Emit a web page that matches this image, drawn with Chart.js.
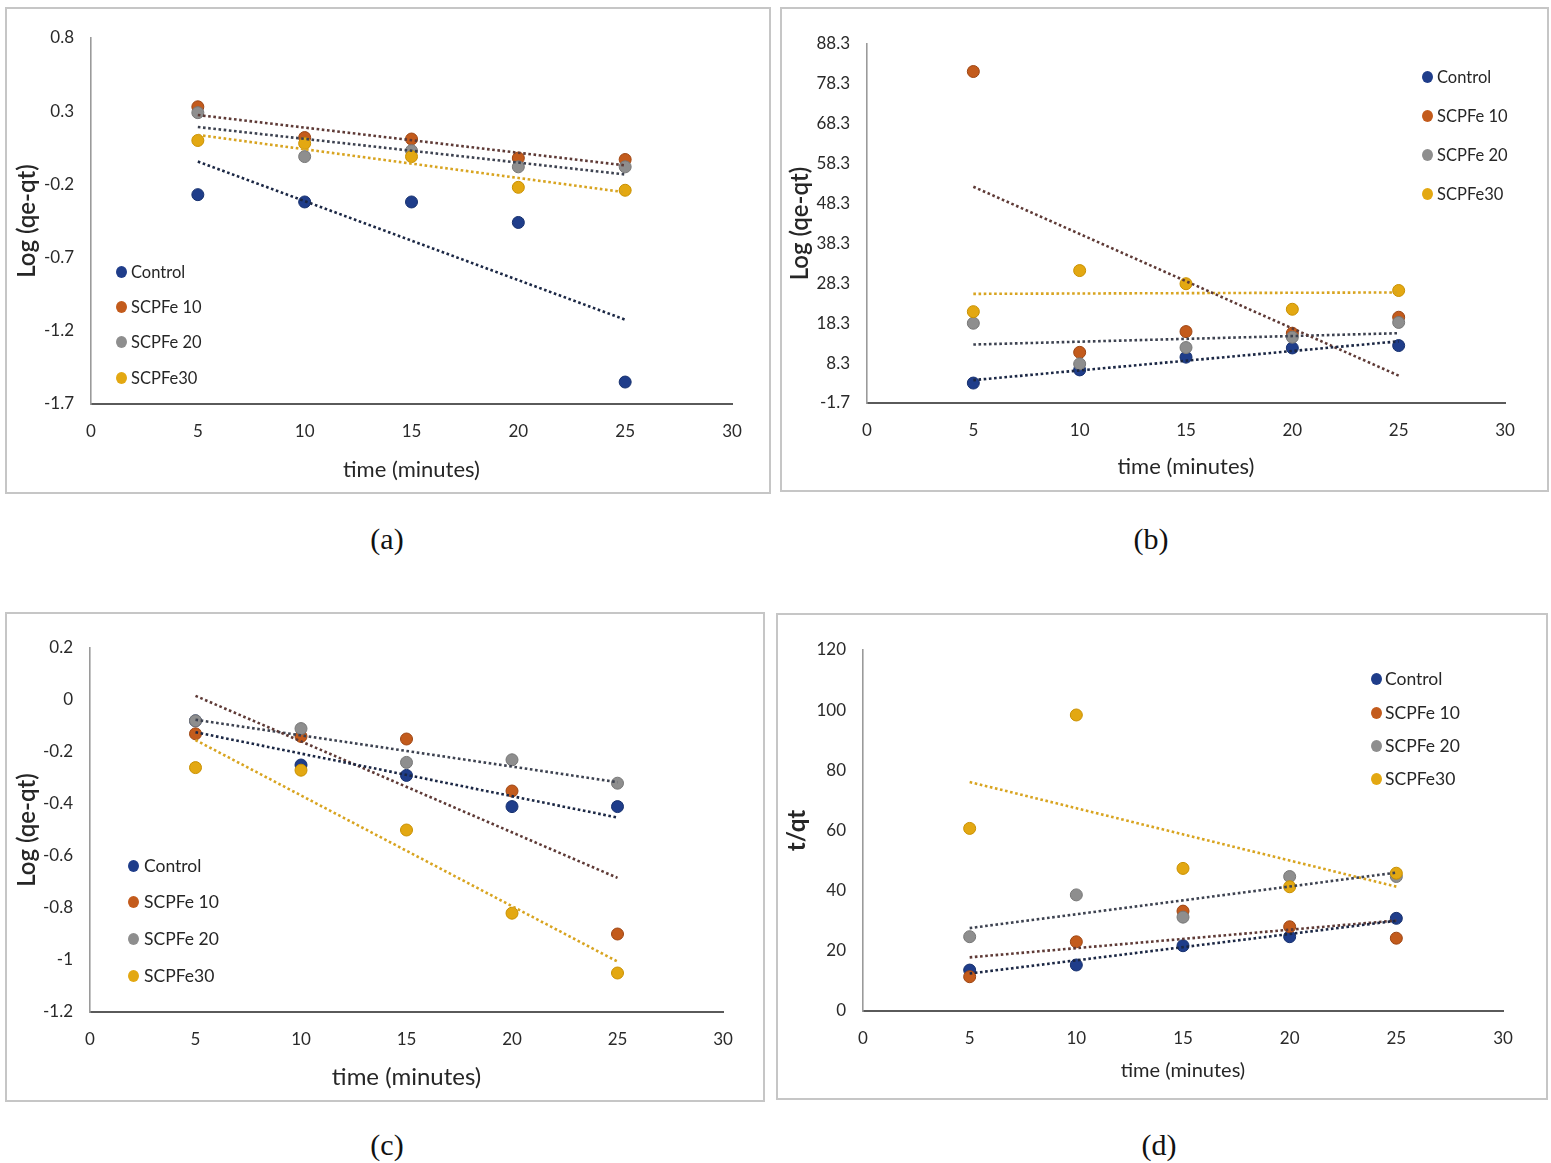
<!DOCTYPE html>
<html><head><meta charset="utf-8">
<script src="https://cdn.jsdelivr.net/npm/chart.js@4.4.1/dist/chart.umd.min.js"></script>
<style>
html,body{margin:0;padding:0;background:#fff;}
body{width:1551px;height:1163px;position:relative;overflow:hidden;font-family:Lato,'Liberation Sans',sans-serif;}
.box{position:absolute;border:2px solid #c6c6c6;box-sizing:border-box;}
canvas{position:absolute;}
.leg{position:absolute;color:#262626;white-space:nowrap;}
.leg i{position:absolute;border-radius:50%;}
.cap{position:absolute;font-family:'Liberation Serif','Times New Roman',serif;font-size:30px;color:#111;transform:translate(-50%,-50%);}
</style></head><body>
<script>
// ---------- DATA ----------
const seriesNames = ['Control', 'SCPFe 10', 'SCPFe 20', 'SCPFe30'];
const timeMinutes = [5, 10, 15, 20, 25];
const xTicks = [0, 5, 10, 15, 20, 25, 30];

// (a) Log (qe-qt)
const aControl = [-0.27, -0.32, -0.32, -0.46, -1.55];
const aSCPFe10 = [0.33, 0.12, 0.11, -0.02, -0.03];
const aSCPFe20 = [0.29, -0.01, 0.03, -0.08, -0.08];
const aSCPFe30 = [0.10, 0.08, -0.01, -0.22, -0.24];
const yTicksA = [-1.7, -1.2, -0.7, -0.2, 0.3, 0.8];

// (b) Log (qe-qt)
const bControl = [3.3, 6.6, 9.8, 12.1, 12.7];
const bSCPFe10 = [81.4, 11.0, 16.2, 15.8, 19.8];
const bSCPFe20 = [18.3, 8.1, 12.2, 14.8, 18.5];
const bSCPFe30 = [21.2, 31.5, 28.2, 21.8, 26.5];
const yTicksB = [-1.7, 8.3, 18.3, 28.3, 38.3, 48.3, 58.3, 68.3, 78.3, 88.3];

// (c) Log (qe-qt)
const cControl = [-0.08, -0.25, -0.29, -0.41, -0.41];
const cSCPFe10 = [-0.13, -0.14, -0.15, -0.35, -0.90];
const cSCPFe20 = [-0.08, -0.11, -0.24, -0.23, -0.32];
const cSCPFe30 = [-0.26, -0.27, -0.50, -0.82, -1.05];
const yTicksC = [-1.2, -1, -0.8, -0.6, -0.4, -0.2, 0, 0.2];

// (d) t/qt
const dControl = [13.6, 15.3, 21.7, 24.7, 30.8];
const dSCPFe10 = [11.4, 23.0, 33.2, 28.0, 24.2];
const dSCPFe20 = [24.7, 38.6, 31.2, 44.7, 44.7];
const dSCPFe30 = [60.7, 98.4, 47.4, 41.3, 45.8];
const yTicksD = [0, 20, 40, 60, 80, 100, 120];

// ---------- STYLE ----------
const pointColors = ['#1f3d8a', '#c35b1c', '#8e8e8e', '#e3a812'];
const pointBorders = ['#16306e', '#9e4512', '#777777', '#c99000'];
const trendColors = ['#1b2744', '#5e3a36', '#3d4250', '#d8a420'];
const FONT = "Lato, 'Liberation Sans', sans-serif";

const panels = [
  {cap:'(a)', capXY:[387,539], box:[5,7,766,487], area:[91,38,732,404],
   yMin:-1.7, yMax:0.8, yTicks:yTicksA, series:[aControl,aSCPFe10,aSCPFe20,aSCPFe30],
   yTitle:'Log (qe-qt)', yTitleSize:24, yTitleWeight:'600', yTitleX:27,
   xTitleSize:22, xTitleY:470,
   leg:{mx:121, tx:131, rows:[272,307,342,378], size:16.5}},
  {cap:'(b)', capXY:[1151,539], box:[780,7,769,485], area:[867,44,1505,403],
   yMin:-1.7, yMax:88.3, yTicks:yTicksB, series:[bControl,bSCPFe10,bSCPFe20,bSCPFe30],
   yTitle:'Log (qe-qt)', yTitleSize:24, yTitleWeight:'600', yTitleX:800,
   xTitleSize:22, xTitleY:467,
   leg:{mx:1427, tx:1437, rows:[77,116,155,194], size:16.5}},
  {cap:'(c)', capXY:[387,1145], box:[5,612,760,490], area:[90,648,723,1012],
   yMin:-1.2, yMax:0.2, yTicks:yTicksC, series:[cControl,cSCPFe10,cSCPFe20,cSCPFe30],
   yTitle:'Log (qe-qt)', yTitleSize:24, yTitleWeight:'600', yTitleX:27,
   xTitleSize:24, xTitleY:1077,
   leg:{mx:133, tx:144, rows:[866,902,939,976], size:17.5}},
  {cap:'(d)', capXY:[1159,1145], box:[776,613,772,487], area:[863,650,1503,1011],
   yMin:0, yMax:120, yTicks:yTicksD, series:[dControl,dSCPFe10,dSCPFe20,dSCPFe30],
   yTitle:'t/qt', yTitleSize:24, yTitleWeight:'bold', yTitleX:797,
   xTitleSize:20, xTitleY:1071,
   leg:{mx:1376, tx:1385, rows:[679,713,746,779], size:17.5}}
];

function linFit(xs, ys) {
  const n = xs.length;
  const mx = xs.reduce((a,b)=>a+b,0)/n, my = ys.reduce((a,b)=>a+b,0)/n;
  let sxy = 0, sxx = 0;
  for (let i=0;i<n;i++){ sxy += (xs[i]-mx)*(ys[i]-my); sxx += (xs[i]-mx)*(xs[i]-mx); }
  const m = sxy/sxx;
  return x => my + m*(x-mx);
}
const fmt = v => String(+v.toFixed(1));

panels.forEach(p => {
  const [bx,by,bw,bh] = p.box;
  const [al,at,ar,ab] = p.area;
  const box = document.createElement('div');
  box.className = 'box';
  Object.assign(box.style,{left:bx+'px',top:by+'px',width:bw+'px',height:bh+'px'});
  document.body.appendChild(box);

  const cv = document.createElement('canvas');
  cv.width = bw; cv.height = bh;
  Object.assign(cv.style,{left:bx+'px',top:by+'px',width:bw+'px',height:bh+'px'});
  document.body.appendChild(cv);

  const datasets = [];
  p.series.forEach((vals, si) => {
    datasets.push({
      label: seriesNames[si],
      data: timeMinutes.map((t,i)=>({x:t, y:vals[i]})),
      showLine:false, pointRadius:6, pointHoverRadius:6,
      backgroundColor: pointColors[si], borderColor: pointBorders[si], borderWidth:1,
      order: 4 - si + 1
    });
  });
  p.series.forEach((vals, si) => {
    const f = linFit(timeMinutes, vals);
    const x0 = timeMinutes[0], x1 = timeMinutes[timeMinutes.length-1];
    datasets.push({
      label: seriesNames[si] + ' trend',
      data: [{x:x0, y:f(x0)}, {x:x1, y:f(x1)}],
      showLine:true, pointRadius:0, borderColor: trendColors[si], borderWidth:2.6,
      borderDash:[2.6,2.6], fill:false, order:0
    });
  });

  const xLH = p.xTitleSize*1.2, yLH = p.yTitleSize*1.2;
  new Chart(cv, {
    type:'scatter',
    data:{datasets},
    options:{
      responsive:false, animation:false, devicePixelRatio:1,
      layout:{padding:{left:0, top:at-by, right:(bx+bw)-ar, bottom:0}},
      plugins:{legend:{display:false}, tooltip:{enabled:false}},
      scales:{
        x:{type:'linear', min:0, max:30,
           afterBuildTicks: s => { s.ticks = xTicks.map(v=>({value:v})); },
           afterFit: s => { s.height = (by+bh) - ab; },
           grid:{display:false, drawTicks:false},
           border:{display:true, color:'#5a5a5a', width:2},
           ticks:{padding:17, color:'#2a2a2a', font:{family:FONT, size:17}, callback:v=>fmt(v), maxRotation:0, autoSkip:false},
           title:{display:true, text:'time (minutes)', color:'#262626',
                  font:{family:FONT, size:p.xTitleSize, lineHeight:1.2},
                  padding:{top:0, bottom:((by+bh)-p.xTitleY) - xLH/2}}},
        y:{type:'linear', min:p.yMin, max:p.yMax,
           afterBuildTicks: s => { s.ticks = p.yTicks.map(v=>({value:v})); },
           afterFit: s => { s.width = al - bx; },
           grid:{display:false, drawTicks:false},
           border:{display:true, color:'#9a9a9a', width:1.6},
           ticks:{padding:17, color:'#2a2a2a', font:{family:FONT, size:17}, callback:v=>fmt(v), autoSkip:false},
           title:{display:true, text:p.yTitle, color:'#262626',
                  font:{family:FONT, size:p.yTitleSize, weight:p.yTitleWeight, lineHeight:1.2},
                  padding:{top:(p.yTitleX-bx) - yLH/2, bottom:0}}}
      }
    }
  });

  // legend (HTML text)
  p.leg.rows.forEach((ry, si) => {
    const d = document.createElement('div');
    d.className = 'leg';
    d.style.left = p.leg.tx+'px';
    d.style.top = (ry - 12)+'px';
    d.style.fontSize = p.leg.size+'px';
    d.style.lineHeight = '24px';
    d.textContent = seriesNames[si];
    const dot = document.createElement('i');
    Object.assign(dot.style,{width:'11px',height:'12px',left:(p.leg.mx - p.leg.tx - 5.5)+'px',top:'6px',background:pointColors[si]});
    d.appendChild(dot);
    document.body.appendChild(d);
  });

  const c = document.createElement('div');
  c.className = 'cap';
  c.style.left = p.capXY[0]+'px'; c.style.top = p.capXY[1]+'px';
  c.textContent = p.cap;
  document.body.appendChild(c);
});
</script>
</body></html>
